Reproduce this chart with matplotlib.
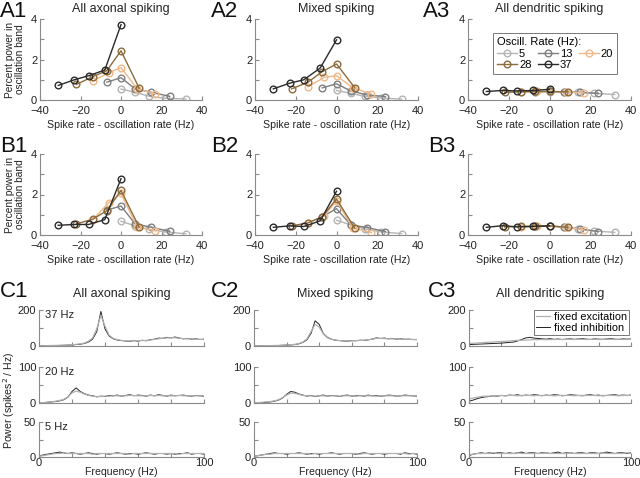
import numpy as np
import matplotlib
matplotlib.use("Agg")
import matplotlib.pyplot as plt

plt.rcParams['font.family'] = ['Liberation Sans', 'DejaVu Sans']

# ---------------- Data: panels A/B ----------------
osc_rates = [5, 13, 20, 28, 37]
osc_colors = ['#b4b4b4', '#7f7f7f', '#f0b888', '#8c6b3c', '#2a2a2a']

x5 = [0, 7, 14, 22, 32]
x13 = [-7, 0, 7, 15, 24]
x20 = [-14, -6, 0, 8, 17]
x28 = [-22, -14, -7, 0, 9]
x37 = [-31, -23, -16, -8, 0]
xs = [x5, x13, x20, x28, x37]

A1 = [[0.54, 0.38, 0.18, 0.08, 0.05],
      [0.88, 1.10, 0.55, 0.38, 0.18],
      [0.93, 1.35, 1.60, 0.55, 0.30],
      [0.77, 1.15, 1.45, 2.43, 0.58],
      [0.72, 1.00, 1.20, 1.48, 3.72]]
A2 = [[0.47, 0.33, 0.18, 0.10, 0.04],
      [0.60, 0.80, 0.45, 0.25, 0.17],
      [0.65, 1.12, 1.20, 0.60, 0.30],
      [0.55, 0.88, 1.40, 1.78, 0.60],
      [0.55, 0.83, 1.00, 1.58, 2.97]]
A3 = [[0.40, 0.40, 0.38, 0.33, 0.27],
      [0.40, 0.42, 0.40, 0.38, 0.33],
      [0.40, 0.42, 0.42, 0.40, 0.35],
      [0.38, 0.40, 0.42, 0.42, 0.40],
      [0.42, 0.47, 0.45, 0.47, 0.53]]
B1 = [[0.68, 0.45, 0.28, 0.15, 0.06],
      [1.23, 1.43, 0.55, 0.38, 0.18],
      [0.75, 1.60, 2.05, 0.40, 0.20],
      [0.55, 0.78, 1.20, 2.20, 0.38],
      [0.48, 0.52, 0.52, 0.76, 2.78]]
B2 = [[0.73, 0.50, 0.30, 0.15, 0.07],
      [0.90, 1.30, 0.50, 0.37, 0.17],
      [0.60, 0.95, 1.70, 0.35, 0.12],
      [0.45, 0.60, 0.90, 1.78, 0.33],
      [0.38, 0.45, 0.42, 0.70, 2.16]]
B3 = [[0.45, 0.38, 0.30, 0.20, 0.13],
      [0.45, 0.45, 0.38, 0.30, 0.17],
      [0.38, 0.42, 0.45, 0.38, 0.25],
      [0.40, 0.43, 0.42, 0.45, 0.38],
      [0.38, 0.46, 0.40, 0.43, 0.45]]

# ---------------- Data: panels C (spectra) ----------------
freq = [i * 2.5 for i in range(41)]

C1_37_inh = [0,1,2,2,3,3,4,5,6,8, 10,14,22,38,80,192,95,55,40,33, 30,28,26,30,27,32,29,35,38,44, 42,48,45,50,44,40,42,38,40,36, 38]
C1_37_exc = [1,1,2,3,3,4,4,5,7,9, 12,16,26,45,95,170,110,60,42,35, 31,29,28,29,30,30,31,33,37,40, 43,45,46,46,43,41,40,39,38,37, 37]
C1_20_inh = [0,1,2,3,4,6,9,16,32,42, 32,26,22,20,17,19,18,21,20,22, 19,21,23,20,22,21,19,22,20,23, 21,19,22,20,21,22,20,19,21,20, 19]
C1_20_exc = [1,1,2,3,5,7,10,17,28,33, 30,25,21,19,18,18,19,19,20,20, 20,20,21,21,20,20,20,21,20,21, 20,20,20,20,21,20,20,20,20,20, 20]
C1_5_inh = [1,3,4,5,6,7,6,5,6,5, 4,5,6,5,4,5,5,4,5,6, 5,4,5,5,4,5,6,5,4,5, 5,4,5,4,5,5,6,4,5,5, 4]
C1_5_exc = [1,2,3,4,5,5,6,5,5,5, 5,5,5,4,5,5,5,5,5,5, 5,5,4,5,5,5,5,5,5,5, 5,5,5,5,4,5,5,5,5,5, 5]

C2_37_inh = [0,0,1,1,2,2,3,4,5,6, 8,12,20,35,70,140,120,70,48,38, 32,30,28,27,30,29,32,31,34,38, 45,42,44,40,42,38,40,37,38,36, 35]
C2_37_exc = [0,1,1,2,2,3,3,4,5,7, 9,13,22,40,80,120,105,68,46,37, 33,30,29,28,29,30,31,32,35,38, 42,42,41,40,40,39,38,37,37,36, 36]
C2_20_inh = [0,1,1,2,3,5,8,14,24,32, 30,25,22,19,21,18,20,22,19,21, 20,18,21,22,19,20,21,19,22,20, 21,19,20,22,21,19,20,22,21,20, 19]
C2_20_exc = [1,1,2,3,4,6,9,15,22,27, 27,24,21,20,20,19,20,20,19,20, 20,19,20,20,20,19,20,20,20,20, 19,20,20,20,20,19,20,20,20,20, 20]
C2_5_inh = [1,2,3,4,5,6,5,5,4,5, 5,6,5,4,5,5,4,5,5,6, 5,4,5,5,5,4,5,6,5,4, 5,5,4,5,5,5,4,6,5,5, 4]
C2_5_exc = [1,2,3,4,4,5,5,5,5,5, 5,5,5,5,4,5,5,5,5,5, 5,5,5,5,5,5,4,5,5,5, 5,5,5,5,5,5,5,5,4,5, 5]

C3_37_inh = [8,9,10,11,12,13,14,15,16,18, 20,22,28,36,45,48,44,42,40,38, 41,37,39,36,38,40,37,39,41,38, 36,40,38,37,39,41,38,36,40,38, 39]
C3_37_exc = [14,15,17,18,20,21,22,24,25,26, 28,30,31,32,33,34,35,35,36,35, 36,36,37,36,37,37,36,38,37,36, 37,38,36,37,38,37,36,38,37,38, 37]
C3_20_inh = [5,8,12,15,17,18,20,19,21,20, 22,21,23,20,22,21,23,22,20,22, 21,23,22,20,21,23,22,21,20,22, 23,21,22,20,21,22,23,21,22,21, 22]
C3_20_exc = [11,14,16,18,19,19,20,20,21,20, 21,21,20,21,21,21,20,21,21,21, 21,20,21,21,21,21,20,21,21,21, 21,21,20,21,21,21,21,20,21,21, 21]
C3_5_inh = [2,4,5,6,5,6,5,6,6,5, 6,5,6,7,5,6,6,5,6,6, 5,6,7,5,6,6,5,6,6,5, 6,6,5,6,7,6,5,6,6,5, 6]
C3_5_exc = [3,4,5,5,5,5,6,5,5,5, 5,5,6,5,5,5,5,5,5,6, 5,5,5,5,5,6,5,5,5,5, 5,5,5,6,5,5,5,5,5,6, 5]

col_titles = ['All axonal spiking', 'Mixed spiking', 'All dendritic spiking']
row_labels_C = ['37 Hz', '20 Hz', '5 Hz']
ylims_C = [200, 100, 50]

# ---------------- Layout helpers ----------------
W, H = 640, 478
fig = plt.figure(figsize=(W / 100, H / 100), dpi=100)

def rect(l, t, r, b):
    return [l / W, 1 - b / H, (r - l) / W, (b - t) / H]

SPINE = '#8a8a8a'
TXT = '#222222'
LAB = 7.6

def style(ax):
    for s in ['top', 'right']:
        ax.spines[s].set_visible(False)
    for s in ['left', 'bottom']:
        ax.spines[s].set_color(SPINE)
        ax.spines[s].set_linewidth(0.8)
    ax.tick_params(direction='in', length=3, width=0.8, color=SPINE,
                   labelcolor=TXT, labelsize=8, pad=2)

colsAB = [(40, 202), (255, 418), (468, 631)]
rowsAB = [(19, 100), (154, 235)]
dataAB = [[A1, A2, A3], [B1, B2, B3]]
axA3 = None
for r, (t, b) in enumerate(rowsAB):
    for c, (l, rr) in enumerate(colsAB):
        ax = fig.add_axes(rect(l, t, rr, b))
        style(ax)
        ax.tick_params(axis='x', pad=4.5)
        data = dataAB[r][c]
        for k in range(5):
            ax.plot(xs[k], data[k], '-o', color=osc_colors[k], lw=1.0,
                    ms=4.8, mfc='none', mew=1.0, label=str(osc_rates[k]))
        ax.set_xlim(-40, 40)
        ax.set_ylim(0, 4)
        ax.set_xticks([-40, -20, 0, 20, 40])
        ax.set_yticks([0, 1, 2, 3, 4])
        ax.set_yticklabels(['0', '', '2', '', '4'])
        ax.set_xlabel('Spike rate - oscillation rate (Hz)', fontsize=LAB,
                      color=TXT, labelpad=3)
        if c == 0:
            ax.set_ylabel('Percent power in\noscillation band', fontsize=7.3,
                          color=TXT, labelpad=4, linespacing=1.05)
        if r == 0:
            ax.set_title(col_titles[c], fontsize=9, color=TXT, pad=5)
        if r == 0 and c == 2:
            axA3 = ax

# legend in A3 (row-wise order 5,13,20 / 28,37)
h, lab = axA3.get_legend_handles_labels()
order = [0, 3, 1, 4, 2]
leg = axA3.legend([h[i] for i in order], [lab[i] for i in order], ncol=3,
                  title='Oscill. Rate (Hz):', fontsize=8, title_fontsize=8,
                  loc='upper right', bbox_to_anchor=(0.914, 0.827),
                  borderaxespad=0.0,
                  handlelength=1.8, handletextpad=0.15, columnspacing=0.6,
                  borderpad=0.35, labelspacing=0.15, frameon=True, fancybox=False,
                  alignment='left')
leg.get_frame().set_edgecolor('#555555')
leg.get_frame().set_linewidth(0.7)

# ---------------- C panels ----------------
colsC = [(39, 204), (254, 417), (469, 631)]
rowsC = [(310, 346), (367, 403), (422, 457)]
C_data = [
    [(C1_37_exc, C1_37_inh), (C1_20_exc, C1_20_inh), (C1_5_exc, C1_5_inh)],
    [(C2_37_exc, C2_37_inh), (C2_20_exc, C2_20_inh), (C2_5_exc, C2_5_inh)],
    [(C3_37_exc, C3_37_inh), (C3_20_exc, C3_20_inh), (C3_5_exc, C3_5_inh)],
]
for c, (l, rr) in enumerate(colsC):
    for r, (t, b) in enumerate(rowsC):
        ax = fig.add_axes(rect(l, t, rr, b))
        style(ax)
        exc, inh = C_data[c][r]
        ax.plot(freq, inh, color='#222222', lw=0.7, label='fixed inhibition')
        ax.plot(freq, exc, color='#b0b0b0', lw=0.9, label='fixed excitation')
        ax.set_xlim(0, 100)
        ymax = ylims_C[r]
        ax.set_ylim(0, ymax)
        ax.set_yticks([0, ymax / 2, ymax])
        ax.set_yticklabels(['0', '', str(ymax)])
        ax.set_xticks([0, 20, 40, 60, 80, 100])
        if r == 2:
            ax.set_xticklabels(['0', '', '', '', '', '100'])
            ax.tick_params(axis='x', pad=1)
        else:
            ax.set_xticklabels([])
        if r == 0:
            ax.set_title(col_titles[c], fontsize=9, color=TXT, pad=9)
        if c == 0:
            ax.text(0.035, 0.85, row_labels_C[r], transform=ax.transAxes,
                    fontsize=8, color=TXT, va='center', ha='left')
        if c == 2 and r == 0:
            hh, ll = ax.get_legend_handles_labels()
            lg = ax.legend([hh[1], hh[0]], [ll[1], ll[0]], fontsize=7.8,
                           loc='upper right', bbox_to_anchor=(0.99, 1.0),
                           borderaxespad=0.0,
                           handlelength=1.3, handletextpad=0.4, borderpad=0.2,
                           labelspacing=0.05, fancybox=False, frameon=True)
            lg.get_frame().set_edgecolor('#555555')
            lg.get_frame().set_linewidth(0.7)
    fig.text((l + rr) / 2 / W, 1 - 472 / H, 'Frequency (Hz)', fontsize=LAB,
             color=TXT, ha='center', va='center')

fig.text(9 / W, 1 - 400 / H, 'Power (spikes$^2$ / Hz)', rotation=90,
         fontsize=LAB, color=TXT, ha='center', va='center')

# panel letters
letters = [('A1', 0, 1), ('A2', 211, 1), ('A3', 423, 1),
           ('B1', 0, 136), ('B2', 211, 136), ('B3', 428, 136),
           ('C1', 0, 281), ('C2', 211, 281), ('C3', 428, 281)]
for txt, x, y in letters:
    fig.text(x / W, 1 - y / H, txt, fontsize=16, color='#111111',
             ha='left', va='top')

fig.savefig('out.png', dpi=100)
